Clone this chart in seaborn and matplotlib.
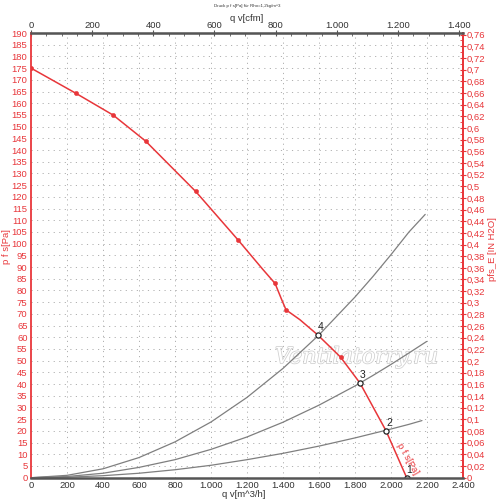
import numpy as np
import pandas as pd
import matplotlib
matplotlib.use("Agg")
import matplotlib.pyplot as plt
import matplotlib.patheffects as pe
from matplotlib.ticker import MultipleLocator, FuncFormatter
import seaborn as sns

# ---------------- data ----------------
fan_q = [0, 248, 457, 637, 915, 1150, 1289, 1356, 1393, 1417, 1494, 1593, 1720, 1828, 1972, 2087]
fan_p = [175, 164.3, 154.9, 143.8, 122.3, 101.6, 88.9, 83.0, 76.0, 71.7, 67.5, 61.0, 51.5, 40.4, 20.1, 0.0]
fan_marker_q = [0, 248, 457, 637, 915, 1150, 1356, 1417, 1720]
fan_marker_p = [175, 164.3, 154.9, 143.8, 122.3, 101.6, 83.0, 71.7, 51.5]

sys_q4 = [0, 200, 400, 600, 800, 1000, 1200, 1400, 1600, 1800, 1900, 2000, 2100, 2190]
sys_p4 = [0, 1.0, 3.8, 8.6, 15.3, 23.8, 34.3, 46.7, 61.0, 77.2, 86.0, 95.3, 105.0, 112.5]
sys_q3 = [0, 200, 400, 600, 800, 1000, 1200, 1400, 1600, 1800, 1900, 2000, 2100, 2198]
sys_p3 = [0, 0.5, 1.9, 4.4, 7.7, 12.1, 17.4, 23.7, 31.0, 39.2, 43.7, 48.4, 53.3, 58.2]
sys_q2 = [0, 200, 400, 600, 800, 1000, 1200, 1400, 1600, 1800, 1900, 2000, 2100, 2172]
sys_p2 = [0, 0.2, 0.85, 1.9, 3.4, 5.3, 7.7, 10.4, 13.5, 17.0, 18.9, 20.8, 22.8, 24.4]

op_labels = ["1", "2", "3", "4"]
op_q = [2087, 1972, 1828, 1593]
op_p = [0.0, 20.1, 40.4, 61.0]

title_text = "Druck p f s[Pa] für Rho=1,2kg/m^3"
xlabel_bottom = "q v[m^3/h]"
xlabel_top = "q v[cfm]"
ylabel_left = "p f s[Pa]"
ylabel_right = "pfs_E [IN H2O]"
curve_label = "p f s[Pa]"
watermark = "Ventilatorry.ru"

# ---------------- style ----------------
sns.set_style("white")
plt.rcParams['font.family'] = ['Liberation Sans', 'DejaVu Sans']

RED = "#e8363a"
GRAY = "#7f7f7f"
FS = 6.8

fig = plt.figure(figsize=(5.0, 5.04), dpi=100)
ax = fig.add_axes([0.062, 0.0522, 0.864, 0.8823])

# grid
ax.set_xlim(0, 2400)
ax.set_ylim(0, 190)
for xv in range(200, 2400, 200):
    ax.axvline(xv, color="#b0b0b0", lw=0.7, ls=(0, (1.2, 4)), zorder=0)
for yv in range(5, 190, 5):
    ax.axhline(yv, color="#b0b0b0", lw=0.7, ls=(0, (1.2, 4.5)), zorder=0)

# system curves
for q, p in [(sys_q4, sys_p4), (sys_q3, sys_p3), (sys_q2, sys_p2)]:
    sns.lineplot(x=q, y=p, ax=ax, color=GRAY, lw=0.9, sort=False, zorder=2)

# fan curve
sns.lineplot(x=fan_q, y=fan_p, ax=ax, color=RED, lw=1.1, sort=False, zorder=3)
sns.scatterplot(x=fan_marker_q, y=fan_marker_p, ax=ax, color=RED, s=9,
                edgecolor=RED, linewidth=0.4, zorder=4)

# operating points
sns.scatterplot(x=op_q, y=op_p, ax=ax, marker="o", s=14, facecolor="white",
                edgecolor="#222222", linewidth=0.9, zorder=5)
for lab, q, p in zip(op_labels, op_q, op_p):
    ax.annotate(lab, (q, p), xytext=(0.0, 2.0), textcoords="offset points",
                fontsize=7.5, color="#222222", ha="left", va="bottom", zorder=6)

ax.text(2095, 8, curve_label, color=RED, fontsize=6.8, rotation=-60,
        ha="center", va="center", zorder=6)

# watermark
ax.text(1810, 51.5, watermark, fontsize=16, family="DejaVu Serif", style="italic",
        color="white", ha="center", va="center", zorder=1,
        path_effects=[pe.withStroke(linewidth=1.1, foreground="#cfcfcf")])

# spines
for s in ["left", "right"]:
    ax.spines[s].set_color(RED)
    ax.spines[s].set_linewidth(1.3)
for s in ["top", "bottom"]:
    ax.spines[s].set_color("#555555")
    ax.spines[s].set_linewidth(1.8)
    ax.spines[s].set_zorder(7)

thousands = FuncFormatter(lambda v, _: f"{int(round(v)):,}".replace(",", "."))

# bottom axis
ax.xaxis.set_major_locator(MultipleLocator(200))
ax.xaxis.set_minor_locator(MultipleLocator(100))
ax.xaxis.set_major_formatter(thousands)
ax.tick_params(axis="x", which="major", direction="inout", length=4, width=0.8,
               color="#555555", labelsize=FS, labelcolor="#333333", pad=0.5)
ax.tick_params(axis="x", which="minor", direction="in", length=2, width=0.6, color="#555555")
ax.set_xlabel("")
fig.text(0.488, 0.018, xlabel_bottom, fontsize=FS, color="#333333", ha="center", va="center")

# left axis
ax.yaxis.set_major_locator(MultipleLocator(5))
ax.yaxis.set_minor_locator(MultipleLocator(2.5))
ax.yaxis.set_major_formatter(FuncFormatter(lambda v, _: f"{int(round(v))}"))
ax.tick_params(axis="y", which="major", direction="inout", length=4, width=0.8,
               color=RED, labelsize=FS, labelcolor=RED, pad=0.5)
ax.tick_params(axis="y", which="minor", direction="in", length=2, width=0.6, color=RED)
ax.set_ylabel("")
fig.text(0.013, 0.51, ylabel_left, fontsize=FS, color=RED, rotation=90,
         ha="center", va="center")

# top axis (cfm)
CFM = 1.699011
top = ax.secondary_xaxis("top", functions=(lambda q: q / CFM, lambda c: c * CFM))
top.xaxis.set_major_locator(MultipleLocator(200))
top.xaxis.set_minor_locator(MultipleLocator(50))
top.xaxis.set_major_formatter(thousands)
top.tick_params(axis="x", which="major", direction="inout", length=4, width=0.8,
                color="#555555", labelsize=FS, labelcolor="#333333", pad=0.3)
top.tick_params(axis="x", which="minor", direction="in", length=2, width=0.6, color="#555555")
fig.text(0.494, 0.964, xlabel_top, fontsize=FS, color="#333333", ha="center", va="center")
fig.text(0.494, 0.988, title_text, fontsize=3.2, color="#333333", ha="center", va="center")

# right axis (in H2O)
INH2O = 249.089
right = ax.secondary_yaxis("right", functions=(lambda p: p / INH2O, lambda h: h * INH2O))
right.yaxis.set_major_locator(MultipleLocator(0.02))
right.yaxis.set_minor_locator(MultipleLocator(0.01))

def fmt_right(v, _):
    s = f"{v:.2f}".rstrip("0").rstrip(".")
    if s in ("-0", ""):
        s = "0"
    return s.replace(".", ",")

right.yaxis.set_major_formatter(FuncFormatter(fmt_right))
right.tick_params(axis="y", which="major", direction="inout", length=4, width=0.8,
                  color=RED, labelsize=FS, labelcolor=RED, pad=0.5)
right.tick_params(axis="y", which="minor", direction="in", length=2, width=0.6, color=RED)
right.spines["right"].set_color(RED)
right.spines["right"].set_linewidth(1.3)
fig.text(0.985, 0.505, ylabel_right, fontsize=FS, color=RED, rotation=90,
         ha="center", va="center")

fig.savefig("out.png", dpi=100)
